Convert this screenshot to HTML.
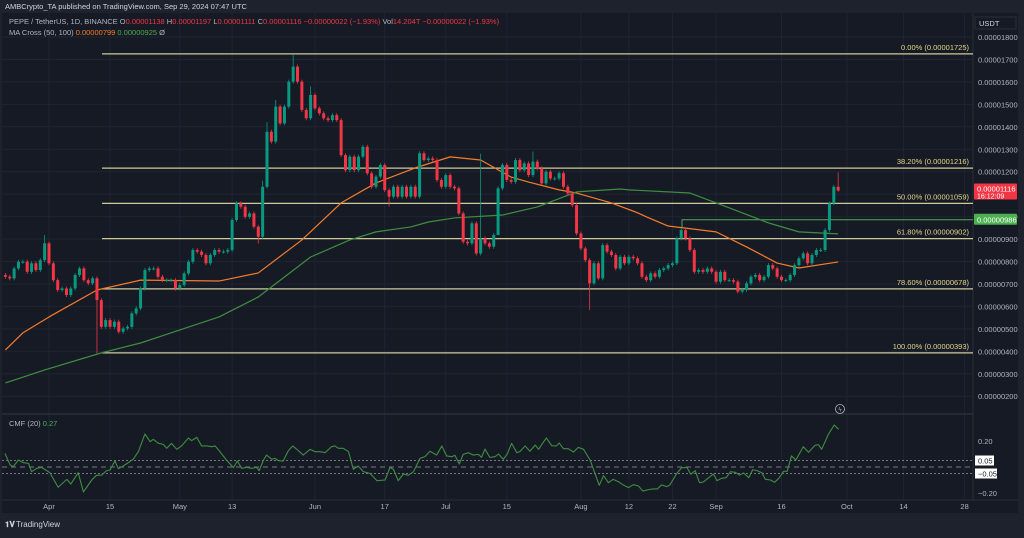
<!DOCTYPE html>
<html><head><meta charset="utf-8">
<style>
html,body{margin:0;padding:0;background:#1e222d;}
body{width:1024px;height:533px;overflow:hidden;font-family:"Liberation Sans",sans-serif;}
svg text{font-family:"Liberation Sans",sans-serif;}
</style></head>
<body>
<svg id="chart" width="1024" height="533" xmlns="http://www.w3.org/2000/svg">
  <rect x="0" y="0" width="1024" height="533" fill="#1e222d"/>
  <rect x="2" y="13" width="1016" height="500" fill="#161a25"/>
  <text x="5" y="9" font-size="7.5" fill="#d1d4dc">AMBCrypto_TA published on TradingView.com, Sep 29, 2024 07:47 UTC</text>
  <g id="grid"></g>
  <g id="fib"></g>
  <g id="ma"></g>
  <g id="candles"></g>
  <g id="axes"></g>
  <g id="cmf"></g>
  <g font-size="7.5">
    <text x="9" y="24" fill="#b2b5be">PEPE / TetherUS, 1D, BINANCE  <tspan fill="#b2b5be">O</tspan><tspan fill="#f23645">0.00001138</tspan> <tspan fill="#b2b5be">H</tspan><tspan fill="#f23645">0.00001197</tspan> <tspan fill="#b2b5be">L</tspan><tspan fill="#f23645">0.00001111</tspan> <tspan fill="#b2b5be">C</tspan><tspan fill="#f23645">0.00001116  −0.00000022 (−1.93%)</tspan>  <tspan fill="#b2b5be">Vol</tspan><tspan fill="#f23645">14.204T  −0.00000022 (−1.93%)</tspan></text>
    <text x="9" y="35" fill="#b2b5be">MA Cross (50, 100) <tspan fill="#f57c2a">0.00000799</tspan> <tspan fill="#4caf50">0.00000925</tspan> Ø</text>
  </g>
  <rect x="975" y="17" width="41" height="12" fill="#161a25" stroke="#2a2e39"/>
  <text x="979" y="26" font-size="7.5" fill="#d1d4dc">USDT</text>
  <g>
    <text x="5" y="527" font-size="8" font-weight="bold" fill="#d1d4dc">𝟏𝐕</text>
    <text x="16" y="527" font-size="8" fill="#d1d4dc">TradingView</text>
  </g>
</svg>
<script>
// ===== DATA =====
const firstDay = -10; // candle 0 = Mar 22 (days from Apr 1)
const closes = [732,725,769,799,799,754,792,762,806,881,792,717,673,680,651,680,740,769,717,703,725,628,509,539,509,532,487,502,509,569,591,680,762,769,769,732,717,717,717,680,695,747,799,851,844,829,792,829,851,844,
844,851,985,1059,1044,999,1014,955,910,1133,1378,1334,1490,1415,1490,1601,1668,1601,1475,1438,1542,1482,1460,1438,1430,1452,1430,1274,1207,1267,1207,1267,1311,1193,1133,1178,1230,1118,1089,1133,1089,1133,1089,1133,1089,1282,1252,1259,
1252,1163,1133,1185,1133,1126,1014,888,881,970,836,903,881,866,918,1126,1230,1163,1155,1252,1207,1237,1185,1245,1215,1148,1200,1170,1170,1193,1133,1103,1051,925,858,806,703,792,725,873,844,829,769,821,792,
821,814,792,732,717,747,732,762,769,784,792,903,940,903,851,754,762,754,769,754,710,754,717,717,710,666,673,703,732,740,717,732,784,769,732,717,717,740,784,814,836,792,829,851,851,940,1059,1133,1116];
const firstOpen = 740;
const extHighIdx = [9,59,60,62,66,70,109,121,191];
const extHighVal = [918,1160,1420,1520,1720,1580,1280,1290,1197];
const extLowIdx = [21,58,88,113,134,191];
const extLowVal = [391,880,1045,1030,584,1111];
const ma50Idx = [0,4,10,21,31,49,58,68,77,85,94,102,109,116,120,127,131,139,145,147,152,163,170,177,182,191];
const ma50Val = [406,482,553,673,717,713,749,896,1061,1150,1217,1266,1252,1176,1154,1119,1105,1061,1017,999,958,932,865,793,771,798];
const ma100Idx = [0,9,22,31,40,49,58,70,79,85,93,97,103,114,122,131,141,143,157,166,175,182,191];
const ma100Val = [259,317,393,437,495,553,642,820,896,932,954,976,994,1007,1043,1110,1123,1119,1105,1039,972,932,923];
const fibPct = ["0.00%","38.20%","50.00%","61.80%","78.60%","100.00%"];
const fibVal = [1725,1216,1059,902,678,393];
const priceTicks = [1800,1700,1600,1500,1400,1300,1200,1100,1000,900,800,700,600,500,400,300,200];
const dateLabels = ["Apr","15","May","13","Jun","17","Jul","15","Aug","12","22","Sep","16","Oct","14","28"];
const dateDays = [0,14,30,42,61,77,91,105,122,133,143,153,168,183,196,210];
const cmfDay = [-10.1,-8.9,-8.2,-7,-5.9,-4.7,-4,-2.8,-1.7,0.2,2.1,4.1,5,6.7,7.9,9.8,10.9,12.1,13.2,14,15.1,15.9,17,18.2,19.3,20.5,22,23.2,23.9,25.1,26.2,27,28.1,29.3,30.4,32,32.7,33.9,35,36.2,37.3,38.1,39.2,40.7,42.3,43.2,44.2,45.3,46.5,47.6,48.2,49.2,49.9,51.1,51.8,52.6,53.7,54.9,55.9,57.2,58.3,59.9,61,62.2,63.3,64.8,65.6,66.4,67.5,68.7,69.8,70.9,72.1,73.6,75.2,77.1,78.2,79,80.1,81.3,82.4,83.6,85.1,86.2,87.4,
88.9,90.1,91.2,92.4,93.1,94.1,95,96.2,97.3,98.5,99.2,100,101.1,102.3,103.1,104.2,105.1,106.1,107.3,108,109.2,110.3,111.5,112.3,113.4,114.1,115.3,116.4,117,118,119.1,120.3,121.4,122.6,124.1,125.2,126.2,127.2,128.3,129.4,130.6,131.7,132.9,134,135.2,136.2,137.5,138.6,139.5,140.5,141.7,142.4,144,145.1,146.3,147.2,148.2,149.2,150.1,151.3,152.4,153.2,154.3,155.3,156.3,157.4,158.4,159.3,160.5,161.4,162.4,163.5,164.3,165.5,166.4,167.4,168.5,169.3,170.3,171.3,173,174.2,175.7,176.5,177.2,178.8,180.1,181.1];
const cmfVal = [0.105,0.015,0.003,0.054,0.033,0.028,-0.036,-0.010,-0.003,-0.044,-0.156,-0.095,-0.131,-0.044,-0.192,-0.100,-0.064,-0.062,-0.028,-0.023,0.046,-0.013,0.008,0.033,0.059,0.118,0.254,0.195,0.213,0.182,0.174,0.144,0.182,0.136,0.162,0.223,0.203,0.228,0.162,0.162,0.156,0.162,0.118,0.054,-0.005,0.046,-0.010,-0.003,-0.010,-0.003,-0.028,0.054,0.092,0.059,0.067,0.049,0.046,0.126,0.162,0.126,0.092,0.136,0.118,0.118,0.110,0.156,0.162,0.144,0.144,0.118,-0.018,0.008,-0.036,-0.049,-0.105,-0.100,-0.003,-0.018,-0.105,-0.054,-0.064,-0.036,0.067,0.079,0.121,
0.092,0.162,0.085,0.079,0.090,0.023,0.097,0.110,0.092,0.097,0.074,0.138,0.074,0.079,0.100,0.059,0.100,0.182,0.110,0.118,0.162,0.121,0.169,0.136,0.192,0.223,0.164,0.162,0.185,0.141,0.141,0.115,0.151,0.136,0.054,-0.049,-0.141,-0.067,-0.121,-0.095,-0.113,-0.138,-0.159,-0.136,-0.146,-0.185,-0.174,-0.169,-0.169,-0.138,-0.151,-0.138,-0.049,-0.005,-0.003,-0.056,-0.028,-0.121,-0.115,-0.082,-0.054,-0.105,-0.087,-0.082,-0.036,-0.041,-0.062,-0.046,-0.082,-0.021,-0.028,-0.044,-0.095,-0.100,-0.118,-0.087,-0.033,-0.033,0.085,0.054,0.156,0.113,0.167,0.172,0.136,0.254,0.323,0.290];

// ===== SCALES =====
const PLOT_R = 973;
function xDay(d){ return 49 + d*4.36; }
function xIdx(i){ return xDay(firstDay + i); }
function yP(p){ return 37 + (1800 - p)*0.2245; }
function yC(v){ return 467 - v*130; }
const NS = "http://www.w3.org/2000/svg";
function mk(tag, attrs, parent){ const e=document.createElementNS(NS,tag); for(const k in attrs) e.setAttribute(k,attrs[k]); parent.appendChild(e); return e; }

// grid + axes
const grid = document.getElementById('grid'), axes = document.getElementById('axes');
priceTicks.forEach(p=>{
  const y=yP(p);
  const l=mk('line',{x1:2,x2:PLOT_R,y1:y,y2:y,stroke:'#1f2432','stroke-width':1},grid);
  
  
  const t=mk('text',{x:978,y:y+3,'font-size':7.5,fill:'#b2b5be'},axes);
  t.textContent=(p/1e8).toFixed(8);
  
  
});
dateLabels.forEach((lab,i)=>{
  const x=xDay(dateDays[i]);
  const l=mk('line',{x1:x,x2:x,y1:13,y2:500,stroke:'#1f2432','stroke-width':1},grid);
  
  
  const t=mk('text',{x:x,y:509,'font-size':7.5,fill:'#b2b5be','text-anchor':'middle'},axes);
  t.textContent=lab;
  
  
});
mk('line',{x1:2,x2:PLOT_R,y1:414,y2:414,stroke:'#2a2e39','stroke-width':1.5},grid);
mk('line',{x1:PLOT_R,x2:PLOT_R,y1:13,y2:500,stroke:'#2a2e39','stroke-width':1},grid);
mk('line',{x1:2,x2:1018,y1:500,y2:500,stroke:'#2a2e39','stroke-width':1},grid);

// fib
const fib=document.getElementById('fib');
fibVal.forEach((v,i)=>{
  const y=yP(v);
  const l=mk('line',{x1:102,x2:PLOT_R,y1:y,y2:y,stroke:'#cfc99a','stroke-width':1.2},fib);
  
  
  const t=mk('text',{x:969,y:y-4,'font-size':7.5,fill:'#e3d68a','text-anchor':'end'},fib);
  t.textContent=fibPct[i]+' ('+(v/1e8).toFixed(8)+')';
  
  
});
// green horizontal line at 986
const gy=yP(986);
mk('polyline',{points:`682,${gy+8} 682,${gy} ${PLOT_R},${gy}`,fill:'none',stroke:'#4caf50','stroke-width':1},fib);

// MAs
const ma=document.getElementById('ma');
const p50=mk('polyline',{points:ma50Idx.map((d,i)=>xIdx(d)+','+yP(ma50Val[i])).join(' '),fill:'none',stroke:'#f57c2a','stroke-width':1.2,'stroke-linejoin':'round'},ma);


const p100=mk('polyline',{points:ma100Idx.map((d,i)=>xIdx(d)+','+yP(ma100Val[i])).join(' '),fill:'none',stroke:'#3e8e41','stroke-width':1.2,'stroke-linejoin':'round'},ma);



// candles
const cg=document.getElementById('candles');
closes.forEach((c,i)=>{
  const o = i===0 ? firstOpen : closes[i-1];
  let hi=Math.max(o,c), lo=Math.min(o,c);
  const hiI=extHighIdx.indexOf(i); const loI=extLowIdx.indexOf(i);
  const x=xIdx(i);
  const col = c>=o ? '#089981' : '#f23645';
  const yh = hiI>=0 ? yP(extHighVal[hiI]) : yP(hi)-2;
  const yl = loI>=0 ? yP(extLowVal[loI]) : yP(lo)+2;
  const w=mk('line',{x1:x,x2:x,y1:yh,y2:yl,stroke:col,'stroke-width':0.8},cg);
  
  
  const yt=yP(hi), yb=yP(lo);
  const b=mk('rect',{x:x-1.5,y:yt,width:3,height:Math.max(1,yb-yt),fill:col},cg);
  
  
});

// price labels right axis
const last=closes[closes.length-1];
const ly=yP(last);
const rb=mk('rect',{x:974,y:ly-7,width:43,height:16,fill:'#f23645',rx:1},axes);


let t=mk('text',{x:977,y:ly+1,'font-size':7.5,fill:'#fff'},axes); t.textContent=(last/1e8).toFixed(8);
t=mk('text',{x:977,y:ly+8,'font-size':7,fill:'#fff'},axes); t.textContent='16:12:09';
const gb=mk('rect',{x:974,y:gy-6,width:43,height:11,fill:'#4caf50',rx:1},axes);


t=mk('text',{x:977,y:gy+3,'font-size':7.5,fill:'#fff'},axes); t.textContent='0.00000986';

// CMF
const cmf=document.getElementById('cmf');
t=mk('text',{x:9,y:426,'font-size':7.5,fill:'#b2b5be'},cmf); t.innerHTML='CMF (20) <tspan fill="#4caf50">0.27</tspan>';
[0.05,-0.05].forEach(v=>{ mk('line',{x1:2,x2:PLOT_R,y1:yC(v),y2:yC(v),stroke:'#9598a1','stroke-width':0.8,'stroke-dasharray':'2,2'},cmf); });
mk('line',{x1:2,x2:PLOT_R,y1:yC(0),y2:yC(0),stroke:'#9598a1','stroke-width':0.8,'stroke-dasharray':'5,4'},cmf);
const cl=mk('polyline',{points:cmfDay.map((d,i)=>xDay(d)+','+yC(cmfVal[i])).join(' '),fill:'none',stroke:'#3e8e41','stroke-width':1.1,'stroke-linejoin':'round'},cmf);


[[0.20,false],[0.05,true],[-0.05,true],[-0.20,false]].forEach(([v,boxed])=>{
  const y=yC(v);
  if(boxed){ mk('rect',{x:975,y:y-5,width:(v<0?22:19),height:10,fill:'#fff'},cmf); }
  const tt=mk('text',{x:978,y:y+3,'font-size':7.5,fill:boxed?'#131722':'#b2b5be'},cmf);
  tt.textContent=(v<0?'−':'')+Math.abs(v).toFixed(2);
  
  
});
const ic=mk('circle',{cx:840,cy:409,r:4.5,fill:'none',stroke:'#b2b5be','stroke-width':0.8},cmf);


t=mk('text',{x:840,y:411.5,'font-size':6,fill:'#b2b5be','text-anchor':'middle'},cmf); t.textContent='ϟ';
</script>
</body></html>
